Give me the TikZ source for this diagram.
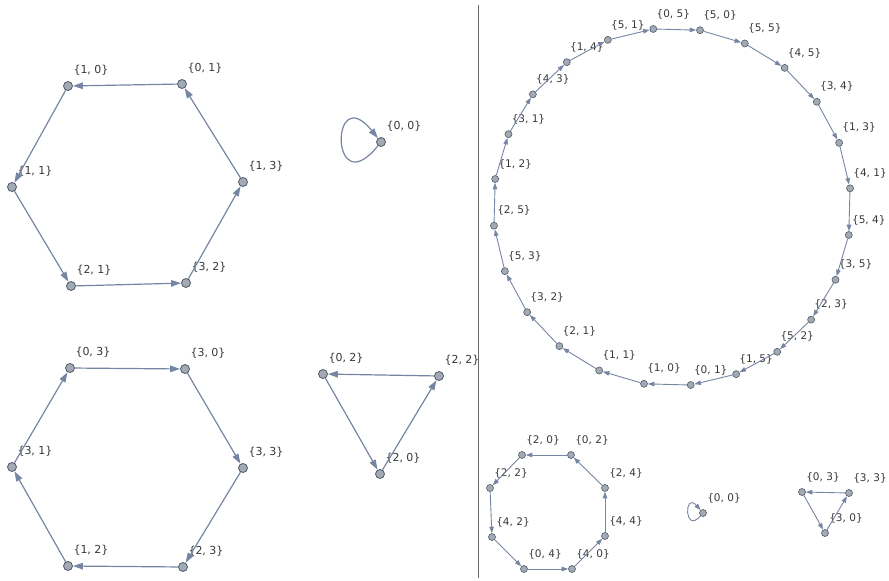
\documentclass[tikz,border=0pt]{standalone}
\usepackage{fontspec}
\setmainfont{DejaVu Sans}
\usetikzlibrary{arrows.meta}
\definecolor{nodef}{HTML}{A2AAB6}
\definecolor{nodeb}{HTML}{505A66}
\definecolor{edgec}{HTML}{7585A3}
\definecolor{labc}{HTML}{383838}
\definecolor{sepc}{HTML}{6A6A6A}
\tikzset{
  vL/.style={circle, draw=nodeb, fill=nodef, line width=0.8pt, inner sep=0pt, minimum size=9pt},
  vR/.style={circle, draw=nodeb, fill=nodef, line width=0.6pt, inner sep=0pt, minimum size=7pt},
  eL/.style={draw=edgec, line width=1.2pt, -{Triangle[length=10pt,width=6.5pt]}},
  eR/.style={draw=edgec, line width=0.9pt, -{Triangle[length=6.5pt,width=4.5pt]}},
  labL/.style={font=\fontsize{11}{13}\selectfont, text=labc, inner sep=0pt},
  labR/.style={font=\fontsize{10.5}{12}\selectfont, text=labc, inner sep=0pt},
  sepline/.style={draw=sepc, line width=1pt}
}
\newcommand{\Lv}[4]{\node[vL] (#1) at (#2,#3) {}; \node[labL] (#1-l) at (#2+23,#3-16) {#4};}
\newcommand{\Rv}[4]{\node[vR] (#1) at (#2,#3) {}; \node[labR] (#1-l) at (#2+21,#3-15) {#4};}
\newcommand{\Dv}[3]{\node[vR] (#1) at ({672+179*sin(-6+15*#2)},{207-179*cos(-6+15*#2)}) {};
  \node[labR] (#1-l) at ({672+179*sin(-6+15*#2)+20},{207-179*cos(-6+15*#2)-15}) {#3};}
\begin{document}
\begin{tikzpicture}[x=1pt,y=-1pt]
\useasboundingbox (0,0) rectangle (889,581);
% separator
\coordinate (s1) at (478,5);
\coordinate (s2) at (478,578);
\draw[sepline] (s1) -- (s2);
% ---- mod 4: hexagon A
\Lv{a10}{68}{86}{\{1, 0\}}
\Lv{a01}{182}{84}{\{0, 1\}}
\Lv{a13}{243}{182}{\{1, 3\}}
\Lv{a32}{186}{283}{\{3, 2\}}
\Lv{a21}{71}{286}{\{2, 1\}}
\Lv{a11}{12}{187}{\{1, 1\}}
\draw[eL] (a01) -- (a10);
\draw[eL] (a10) -- (a11);
\draw[eL] (a11) -- (a21);
\draw[eL] (a21) -- (a32);
\draw[eL] (a32) -- (a13);
\draw[eL] (a13) -- (a01);
% loop {0,0}
\Lv{a00}{381}{142}{\{0, 0\}}
\draw[eL] (a00) .. controls (330,205) and (330,79) .. (a00);
% hexagon B
\Lv{b03}{70}{368}{\{0, 3\}}
\Lv{b30}{185}{369}{\{3, 0\}}
\Lv{b33}{243}{468}{\{3, 3\}}
\Lv{b23}{183}{567}{\{2, 3\}}
\Lv{b12}{68}{566}{\{1, 2\}}
\Lv{b31}{12}{467}{\{3, 1\}}
\draw[eL] (b03) -- (b30);
\draw[eL] (b30) -- (b33);
\draw[eL] (b33) -- (b23);
\draw[eL] (b23) -- (b12);
\draw[eL] (b12) -- (b31);
\draw[eL] (b31) -- (b03);
% triangle C
\Lv{c02}{323}{374}{\{0, 2\}}
\Lv{c22}{439}{376}{\{2, 2\}}
\Lv{c20}{380}{474}{\{2, 0\}}
\draw[eL] (c22) -- (c02);
\draw[eL] (c02) -- (c20);
\draw[eL] (c20) -- (c22);
% ---- mod 6: big cycle D
\Dv{d05}{0}{\{0, 5\}}
\Dv{d50}{1}{\{5, 0\}}
\Dv{d55}{2}{\{5, 5\}}
\Dv{d45}{3}{\{4, 5\}}
\Dv{d34}{4}{\{3, 4\}}
\Dv{d13}{5}{\{1, 3\}}
\Dv{d41}{6}{\{4, 1\}}
\Dv{d54}{7}{\{5, 4\}}
\Dv{d35}{8}{\{3, 5\}}
\Dv{d23}{9}{\{2, 3\}}
\Dv{d52}{10}{\{5, 2\}}
\Dv{d15}{11}{\{1, 5\}}
\Dv{d01}{12}{\{0, 1\}}
\Dv{d10}{13}{\{1, 0\}}
\Dv{d11}{14}{\{1, 1\}}
\Dv{d21}{15}{\{2, 1\}}
\Dv{d32}{16}{\{3, 2\}}
\Dv{d53}{17}{\{5, 3\}}
\Dv{d25}{18}{\{2, 5\}}
\Dv{d12}{19}{\{1, 2\}}
\Dv{d31}{20}{\{3, 1\}}
\Dv{d43}{21}{\{4, 3\}}
\Dv{d14}{22}{\{1, 4\}}
\Dv{d51}{23}{\{5, 1\}}
\foreach \u/\v in {d05/d50,d50/d55,d55/d45,d45/d34,d34/d13,d13/d41,d41/d54,d54/d35,d35/d23,d23/d52,d52/d15,d15/d01,d01/d10,d10/d11,d11/d21,d21/d32,d32/d53,d53/d25,d25/d12,d12/d31,d31/d43,d43/d14,d14/d51,d51/d05}
  \draw[eR] (\u) -- (\v);
% octagon E
\Rv{e20}{522}{455}{\{2, 0\}}
\Rv{e02}{571}{455}{\{0, 2\}}
\Rv{e24}{605}{488}{\{2, 4\}}
\Rv{e44}{605}{536}{\{4, 4\}}
\Rv{e40}{572}{569}{\{4, 0\}}
\Rv{e04}{524}{569}{\{0, 4\}}
\Rv{e42}{492}{537}{\{4, 2\}}
\Rv{e22}{490}{488}{\{2, 2\}}
\draw[eR] (e02) -- (e20);
\draw[eR] (e20) -- (e22);
\draw[eR] (e22) -- (e42);
\draw[eR] (e42) -- (e04);
\draw[eR] (e04) -- (e40);
\draw[eR] (e40) -- (e44);
\draw[eR] (e44) -- (e24);
\draw[eR] (e24) -- (e02);
% loop {0,0}
\Rv{f00}{703}{513}{\{0, 0\}}
\draw[eR] (f00) .. controls (684,535) and (684,491) .. (f00);
% triangle G
\Rv{g03}{802}{492}{\{0, 3\}}
\Rv{g33}{849}{493}{\{3, 3\}}
\Rv{g30}{825}{533}{\{3, 0\}}
\draw[eR] (g33) -- (g03);
\draw[eR] (g03) -- (g30);
\draw[eR] (g30) -- (g33);
\end{tikzpicture}
\end{document}
